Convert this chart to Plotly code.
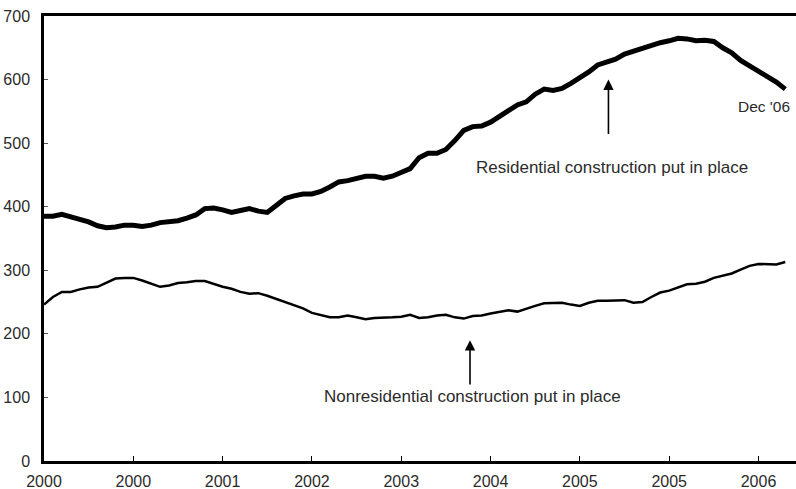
import plotly.graph_objects as go

# Monthly, Jan 2000 .. Dec 2006 (84 months), billions of dollars (SAAR)
month_index = list(range(84))

residential = [
    385, 385, 388, 383, 380, 376, 370, 367, 368, 371,
    371, 369, 371, 375, 377, 378, 382, 387, 397, 398,
    395, 391, 394, 397, 393, 391, 402, 413, 417, 420,
    420, 424, 431, 439, 441, 445, 448, 448, 445, 448,
    454, 460, 477, 484, 484, 490, 504, 520, 526, 527,
    533, 541, 551, 560, 565, 577, 585, 583, 586, 594,
    602, 612, 623, 627, 632, 640, 645, 650, 655, 658,
    661, 665, 664, 661, 662, 660, 650, 642, 630, 622,
    612, 605, 596, 585,
]

nonresidential = [
    246, 258, 266, 266, 270, 273, 274, 280, 287, 288,
    288, 284, 279, 274, 276, 280, 281, 283, 283, 278,
    274, 271, 266, 263, 264, 260, 255, 250, 246, 240,
    233, 229, 226, 226, 229, 226, 223, 225, 225, 226,
    227, 230, 225, 226, 229, 230, 226, 224, 228, 229,
    232, 235, 237, 235, 240, 244, 248, 249, 249, 246,
    244, 249, 252, 252, 253, 253, 249, 250, 258, 265,
    268, 273, 278, 279, 282, 288, 292, 295, 301, 307,
    310, 309, 309, 313,
]

tick_positions = [0, 10, 20, 30, 40, 50, 60, 70, 80]
tick_labels = ["2000", "2000", "2001", "2002", "2003", "2004", "2005", "2005", "2006"]

font_family = "Liberation Sans, Arial, sans-serif"
text_color = "#2b2b2b"

fig = go.Figure()
fig.add_trace(go.Scatter(
    x=month_index, y=residential, mode="lines",
    line=dict(color="black", width=5), showlegend=False,
))
fig.add_trace(go.Scatter(
    x=month_index, y=nonresidential, mode="lines",
    line=dict(color="black", width=2.5), showlegend=False,
))

annotations = [
    dict(x=63.2, y=600, ax=63.2, ay=512, xref="x", yref="y", axref="x", ayref="y",
         text="", showarrow=True, arrowhead=2, arrowsize=1.3, arrowwidth=1.6,
         arrowcolor="black"),
    dict(x=63.6, y=462, xref="x", yref="y", text="Residential construction put in place",
         showarrow=False, font=dict(size=17, color=text_color, family=font_family)),
    dict(x=47.7, y=190, ax=47.7, ay=118, xref="x", yref="y", axref="x", ayref="y",
         text="", showarrow=True, arrowhead=2, arrowsize=1.3, arrowwidth=1.6,
         arrowcolor="black"),
    dict(x=48.0, y=101, xref="x", yref="y", text="Nonresidential construction put in place",
         showarrow=False, font=dict(size=17, color=text_color, family=font_family)),
    dict(x=83.8, y=557, xref="x", yref="y", text="Dec '06", xanchor="right",
         showarrow=False, font=dict(size=15.5, color=text_color, family=font_family)),
]

fig.update_layout(
    width=796, height=489,
    margin=dict(l=44, r=0, t=16, b=28),
    paper_bgcolor="white", plot_bgcolor="white",
    font=dict(family=font_family, size=16, color=text_color),
    annotations=annotations,
    xaxis=dict(
        range=[0, 84.2], tickvals=tick_positions, ticktext=tick_labels,
        showgrid=False, zeroline=False, showline=True, linecolor="black",
        linewidth=2.5, mirror=True, ticks="inside", ticklen=5, tickwidth=1,
        tickcolor="black", tickfont=dict(size=16, color=text_color),
        ticklabelstandoff=4, ticklabeloverflow="allow",
    ),
    yaxis=dict(
        range=[0, 700], tickvals=[0, 100, 200, 300, 400, 500, 600, 700],
        showgrid=False, zeroline=False, showline=True, linecolor="black",
        linewidth=2.5, ticks="inside", ticklen=4, tickwidth=1, tickcolor="#555",
        tickfont=dict(size=16, color=text_color), ticklabelstandoff=8,
        ticklabeloverflow="allow",
    ),
)

# Remove the default page margin so the 796x489 figure fills the window exactly.
fig.write_html(
    "out.html",
    config={"displayModeBar": False},
    post_script="document.body.style.margin='0';document.body.style.overflow='hidden';",
)
